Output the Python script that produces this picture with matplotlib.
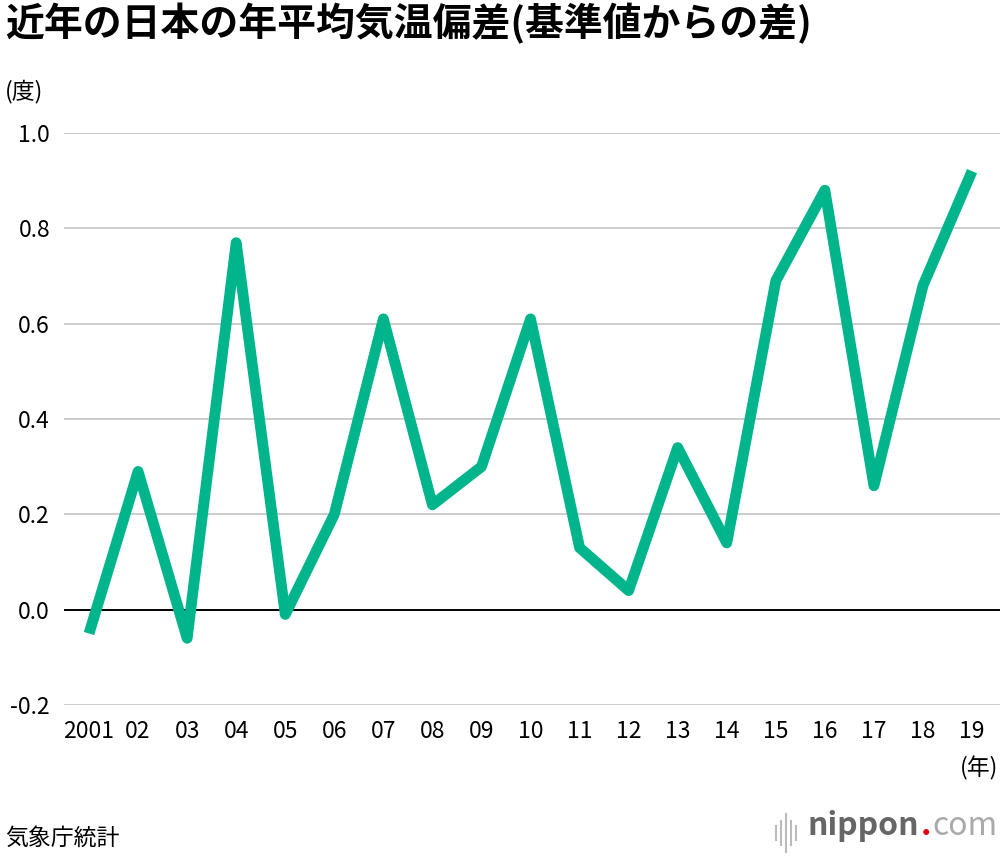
import matplotlib
matplotlib.use("Agg")
import matplotlib.pyplot as plt

plt.rcParams['font.family'] = ['Noto Sans CJK JP', 'DejaVu Sans']

# data
years = list(range(2001, 2020))
anomaly = [-0.05, 0.29, -0.06, 0.77, -0.01, 0.20, 0.61, 0.22, 0.30, 0.61,
           0.13, 0.04, 0.34, 0.14, 0.69, 0.88, 0.26, 0.68, 0.92]
xlabels = ["2001", "02", "03", "04", "05", "06", "07", "08", "09", "10",
           "11", "12", "13", "14", "15", "16", "17", "18", "19"]
yticks = [-0.2, 0.0, 0.2, 0.4, 0.6, 0.8, 1.0]

fig = plt.figure(figsize=(10, 8.56), dpi=100)
ax = fig.add_axes([0.064, 0.1764, 0.936, 0.6682])

for v in yticks:
    ax.axhline(v, color="#000000" if v == 0 else "#cccccc", lw=1.4, zorder=1)

ax.plot(years, anomaly, color="#00b48c", lw=7.8, solid_joinstyle="round",
        solid_capstyle="butt", zorder=3, clip_on=False)

ax.set_xlim(2000.49, 2019.57)
ax.set_ylim(-0.2, 1.0)
ax.set_xticks(years)
ax.set_xticklabels(xlabels)
ax.set_yticks(yticks)
ax.set_yticklabels([f"{v:.1f}" for v in yticks])
ax.tick_params(axis="both", length=0, labelsize=16.5)
ax.tick_params(axis="x", pad=11)
ax.tick_params(axis="y", pad=10)
for s in ax.spines.values():
    s.set_visible(False)

fig.text(0.005, 0.972, "近年の日本の年平均気温偏差(基準値からの差)", fontsize=28,
         fontweight="bold", va="center", ha="left")
fig.text(0.005, 0.893, "(度)", fontsize=16.5, va="center", ha="left")
fig.text(0.998, 0.103, "(年)", fontsize=16.5, va="center", ha="right")
fig.text(0.005, 0.021, "気象庁統計", fontsize=16.5, va="center", ha="left")

# logo
com = fig.text(0.998, 0.024, "com", fontsize=23, color="#aaaaaa", va="baseline",
               ha="right")
dot = ax.annotate(".", xy=(0, 0), xycoords=com, xytext=(-1, 0),
                  textcoords="offset points", fontsize=23, color="#e60012",
                  fontweight="bold", va="bottom", ha="right")
nip = ax.annotate("nippon", xy=(0, 0), xycoords=dot, xytext=(-1, 0),
                  textcoords="offset points", fontsize=23, color="#666666",
                  fontweight="bold", va="bottom", ha="right")
bar_x = [0.776, 0.781, 0.786, 0.791, 0.796]
bar_h = [0.008, 0.014, 0.022, 0.014, 0.008]
for bx, bh in zip(bar_x, bar_h):
    fig.add_artist(plt.Line2D([bx, bx], [0.027 - bh, 0.027 + bh], color="#bbbbbb",
                              lw=1.5, transform=fig.transFigure))

fig.savefig("out.png", dpi=100, facecolor="white")
